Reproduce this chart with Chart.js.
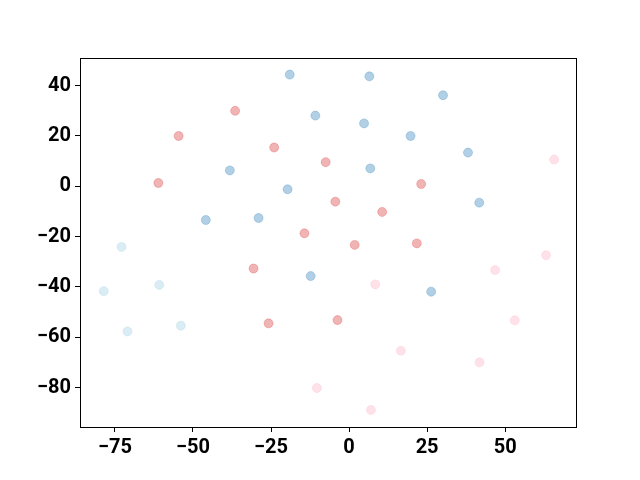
<!DOCTYPE html>
<html>
<head>
<meta charset="utf-8">
<script src="https://cdn.jsdelivr.net/npm/chart.js@4.4.1/dist/chart.umd.min.js"></script>
<style>
  html, body { margin: 0; padding: 0; background: #fff; }
  canvas { display: block; }
</style>
</head>
<body>
<canvas id="scatterChart" width="640" height="480"></canvas>
<script>
// data
const blueX = [-19.0, -10.8, -38.2, -19.7, -45.9, -29.0, 6.5, 30.1, 4.8, 19.7, 38.1, 6.8, 41.7, -12.3, 26.3];
const blueY = [44.4, 28.1, 6.3, -1.2, -13.4, -12.6, 43.7, 36.2, 25.0, 20.0, 13.4, 7.1, -6.5, -35.7, -41.9];

const redX = [-36.5, -54.6, -24.0, -7.5, -61.1, -14.3, 23.1, -4.4, 10.6, 1.8, 21.7, -30.6, -25.8, -3.7];
const redY = [30.0, 20.0, 15.4, 9.6, 1.3, -18.7, 0.9, -6.1, -10.2, -23.3, -22.7, -32.7, -54.5, -53.2];

const cyanX = [-72.9, -78.6, -60.8, -71.0, -53.9];
const cyanY = [-24.1, -41.7, -39.2, -57.7, -55.4];

const pinkX = [65.7, 63.1, 46.8, 8.4, 53.1, 16.6, 41.8, -10.3, 7.0];
const pinkY = [10.6, -27.4, -33.3, -39.0, -53.3, -65.4, -70.0, -80.2, -88.9];

const xTicks = [-75, -50, -25, 0, 25, 50];
const yTicks = [-80, -60, -40, -20, 0, 20, 40];

function toPoints(xs, ys) {
    return xs.map((x, i) => ({ x: x, y: ys[i] }));
}

function fmt(v) {
    return v < 0 ? '\u2212' + Math.abs(v) : String(v);
}

const frame = {
    id: 'frame',
    afterDraw(chart) {
        const a = chart.chartArea;
        const ctx = chart.ctx;
        ctx.save();
        ctx.strokeStyle = '#000';
        ctx.lineWidth = 1;
        ctx.strokeRect(Math.round(a.left) + 0.5, Math.round(a.top) + 0.5,
            Math.round(a.right - a.left), Math.round(a.bottom - a.top));
        ctx.restore();
    }
};

const tickFont = { family: 'Roboto', size: 20, weight: 'bold' };

new Chart(document.getElementById('scatterChart'), {
    type: 'scatter',
    data: {
        datasets: [
            {
                data: toPoints(blueX, blueY),
                backgroundColor: 'rgba(31, 119, 180, 0.35)',
                borderColor: 'rgba(31, 119, 180, 0.25)',
                borderWidth: 1,
                pointRadius: 4.5
            },
            {
                data: toPoints(redX, redY),
                backgroundColor: 'rgba(214, 39, 40, 0.35)',
                borderColor: 'rgba(214, 39, 40, 0.25)',
                borderWidth: 1,
                pointRadius: 4.5
            },
            {
                data: toPoints(cyanX, cyanY),
                backgroundColor: 'rgba(173, 216, 230, 0.45)',
                borderColor: 'rgba(173, 216, 230, 0.35)',
                borderWidth: 1,
                pointRadius: 4.5
            },
            {
                data: toPoints(pinkX, pinkY),
                backgroundColor: 'rgba(255, 182, 200, 0.4)',
                borderColor: 'rgba(255, 182, 200, 0.3)',
                borderWidth: 1,
                pointRadius: 4.5
            }
        ]
    },
    options: {
        responsive: false,
        animation: false,
        layout: { padding: { top: 58, right: 64, left: 0, bottom: 0 } },
        plugins: {
            legend: { display: false },
            tooltip: { enabled: false }
        },
        scales: {
            x: {
                type: 'linear',
                min: -86.2,
                max: 72.7,
                afterBuildTicks: (axis) => { axis.ticks = xTicks.map(v => ({ value: v })); },
                afterFit: (axis) => { axis.height = 53; },
                grid: { drawOnChartArea: false, drawTicks: true, tickLength: 5, color: '#000' },
                border: { display: true, color: '#000' },
                ticks: { color: '#000', font: tickFont, padding: 4, maxRotation: 0, callback: fmt }
            },
            y: {
                type: 'linear',
                min: -95.7,
                max: 51.0,
                afterBuildTicks: (axis) => { axis.ticks = yTicks.map(v => ({ value: v })); },
                afterFit: (axis) => { axis.width = 80; },
                grid: { drawOnChartArea: false, drawTicks: true, tickLength: 5, color: '#000' },
                border: { display: true, color: '#000' },
                ticks: { color: '#000', font: tickFont, padding: 4, callback: fmt }
            }
        }
    },
    plugins: [frame]
});
</script>
</body>
</html>
